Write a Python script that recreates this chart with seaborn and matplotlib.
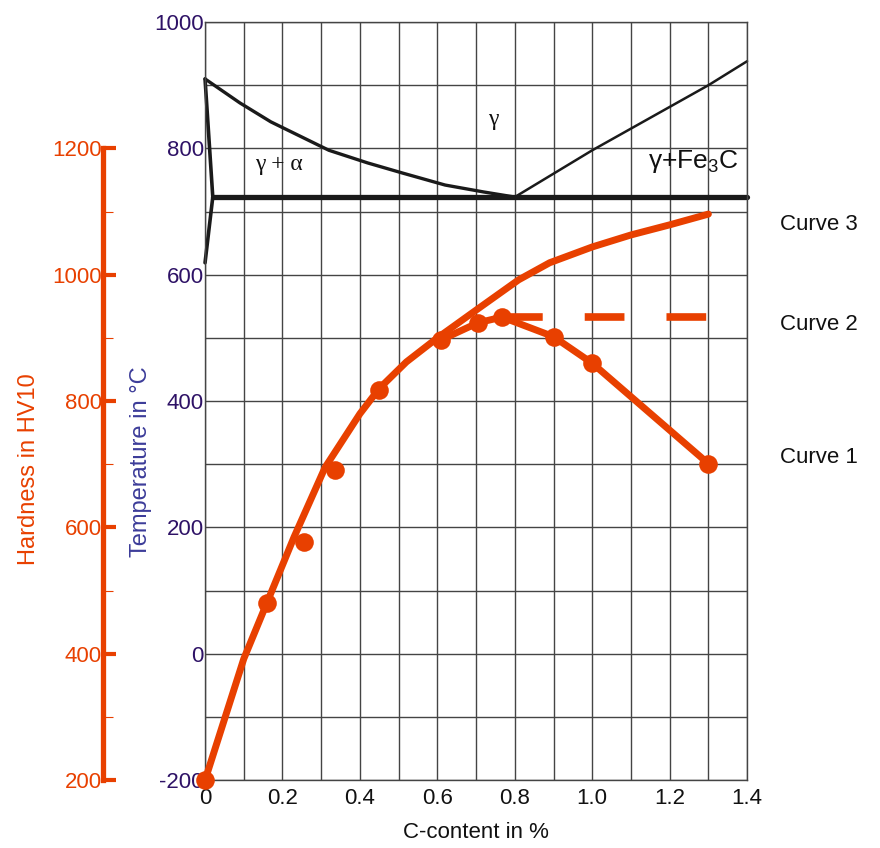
import numpy as np
import pandas as pd
import matplotlib
matplotlib.use("Agg")
import matplotlib.pyplot as plt
import seaborn as sns

# hardness curves (HV10) against carbon content (%)
c1_x = [0.0, 0.16, 0.255, 0.335, 0.45, 0.61, 0.705, 0.767, 0.9, 1.0, 1.3]
c1_hv = [200, 481, 577, 691, 818, 897, 924, 933, 902, 860, 701]

c2_x = [0.77, 1.31]
c2_hv = [933, 933]

c3_x = [0.0, 0.1, 0.16, 0.23, 0.31, 0.4, 0.45, 0.52, 0.6, 0.7, 0.81, 0.89,
        1.0, 1.1, 1.2, 1.3]
c3_hv = [200, 392, 481, 585, 695, 780, 820, 862, 900, 944, 992, 1019,
         1044, 1063, 1079, 1096]

# Fe-C phase boundaries (temperature in C)
a3_x = [0.0, 0.09, 0.17, 0.25, 0.32, 0.42, 0.51, 0.62, 0.72, 0.8]
a3_t = [910, 872, 842, 818, 797, 777, 761, 742, 731, 723]
acm_x = [0.8, 1.0, 1.3, 1.4]
acm_t = [723, 797, 900, 938]
a1_x = [0.02, 1.4]
a1_t = [723, 723]
left_x = [0.0, 0.02, 0.0]
left_t = [910, 723, 619]

x_ticks = [0, 0.2, 0.4, 0.6, 0.8, 1.0, 1.2, 1.4]
x_labels = ["0", "0.2", "0.4", "0.6", "0.8", "1.0", "1.2", "1.4"]
t_ticks = [-200, 0, 200, 400, 600, 800, 1000]
hv_ticks = [200, 400, 600, 800, 1000, 1200]
curve_names = ["Curve 3", "Curve 2", "Curve 1"]
curve_label_t = [679, 521, 310]

sns.set_theme(style="white")
plt.rcParams["font.family"] = ["Liberation Sans", "DejaVu Sans"]
plt.rcParams["mathtext.fontset"] = "custom"
plt.rcParams["mathtext.rm"] = "Liberation Sans"
plt.rcParams["axes.unicode_minus"] = False

orange = "#E84000"
purple = "#2E1266"

fig = plt.figure(figsize=(8.8, 8.48), dpi=100)
ax = fig.add_axes([0.233, 0.080, 0.616, 0.894])

# phase diagram
pd_kw = dict(color="#1a1a1a", ax=ax, sort=False, estimator=None, legend=False)
sns.lineplot(x=a3_x, y=a3_t, linewidth=2.4, **pd_kw)
sns.lineplot(x=acm_x, y=acm_t, linewidth=1.8, **pd_kw)
sns.lineplot(x=a1_x, y=a1_t, linewidth=3.8, **pd_kw)
sns.lineplot(x=left_x, y=left_t, linewidth=2.6, **pd_kw)
for ln in ax.lines:
    ln.set_clip_on(False)

ax.set_xlim(0, 1.4)
ax.set_ylim(-200, 1000)
ax.set_xticks(x_ticks)
ax.set_xticklabels(x_labels)
ax.set_xticks(np.arange(0.1, 1.4, 0.2), minor=True)
ax.set_yticks(t_ticks)
ax.set_yticks(np.arange(-100, 1000, 200), minor=True)
ax.grid(True, which="both", color="#444444", linewidth=1.0)
ax.tick_params(axis="both", which="both", length=0)
ax.tick_params(axis="x", labelsize=16, pad=6, labelcolor="#111111")
ax.tick_params(axis="y", labelsize=16, pad=1, labelcolor=purple)
for s in ax.spines.values():
    s.set_color("#444444")
    s.set_linewidth(1.0)

ax.text(0.19, 775, "γ + α", fontsize=17, family="Liberation Serif",
        ha="center", va="center", color="#111111")
ax.text(0.745, 845, "γ", fontsize=17, family="Liberation Serif",
        ha="center", va="center", color="#111111")
ax.text(1.26, 780, "γ+Fe$_\\mathrm{3}$C", fontsize=19,
        ha="center", va="center", color="#111111")

for name, t in zip(curve_names, curve_label_t):
    ax.text(1.486, t, name, fontsize=16, ha="left", va="center",
            color="#111111", clip_on=False)

# hardness axis, 1:1 with temperature shifted by 400
hax = ax.twinx()
c1 = pd.DataFrame({"c": c1_x, "hv": c1_hv})
c3 = pd.DataFrame({"c": c3_x, "hv": c3_hv})
sns.lineplot(data=c3, x="c", y="hv", color=orange, linewidth=5, ax=hax,
             estimator=None, solid_joinstyle="round", solid_capstyle="round")
# below ~0.6 % curve 1 runs on top of curve 3, only its own branch is drawn
sns.lineplot(data=c1[c1["c"] >= 0.6], x="c", y="hv", color=orange,
             linewidth=5, ax=hax, estimator=None, solid_joinstyle="round")
sns.scatterplot(data=c1, x="c", y="hv", color=orange, s=180, ax=hax,
                edgecolor=orange, linewidth=0, zorder=4, clip_on=False)
hax.plot(c2_x, c2_hv, color=orange, linewidth=5.5, linestyle=(0, (5.2, 5.5)),
         solid_capstyle="butt", dash_capstyle="butt")
for ln in hax.lines:
    ln.set_clip_on(False)

hax.set_xlim(0, 1.4)
hax.set_ylim(200, 1400)
hax.grid(False)
hax.yaxis.set_ticks_position("left")
hax.yaxis.set_label_position("left")
for k in ["top", "bottom", "right"]:
    hax.spines[k].set_visible(False)
hax.spines["left"].set_position(("axes", -0.188))
hax.spines["left"].set_bounds(200, 1200)
hax.spines["left"].set_color(orange)
hax.spines["left"].set_linewidth(3.8)
hax.set_yticks(hv_ticks)
hax.set_yticks(np.arange(300, 1200, 200), minor=True)
hax.tick_params(axis="y", which="major", direction="in", length=9, width=3,
                color=orange, labelsize=16, labelcolor=orange, pad=1)
hax.tick_params(axis="y", which="minor", direction="in", length=7, width=0.8,
                color=orange)
hax.set_ylabel("Hardness in HV10", fontsize=17, color=orange)
hax.yaxis.set_label_coords(-0.304, 0.41)

ax.set_xlabel("C-content in %", fontsize=16, color="#111111", labelpad=9)
ax.set_ylabel("Temperature in °C", fontsize=17, color="#3C3C99")
ax.yaxis.set_label_coords(-0.098, 0.42)

fig.savefig("out.png", dpi=100)
